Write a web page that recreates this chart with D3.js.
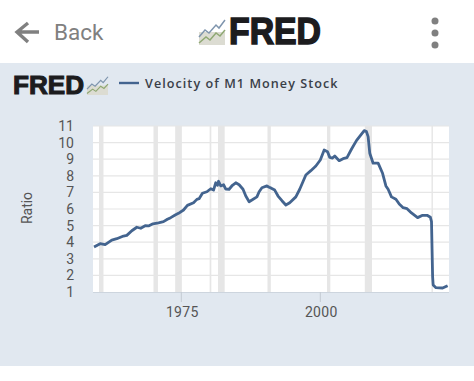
<!DOCTYPE html>
<html><head><meta charset="utf-8">
<script src="https://cdn.jsdelivr.net/npm/d3@7"></script>
<style>html,body{margin:0;padding:0;background:#fff}svg{display:block}text{font-family:Roboto,sans-serif}</style>
</head><body><svg id="c" width="474" height="381"></svg>
<script>
const years=[1959.3,1960.4,1961.3,1962.5,1963.4,1964.6,1965.2,1966.1,1967,1967.7,1968.5,1969.1,1969.9,1970.9,1971.8,1972.5,1973.1,1973.9,1974.5,1975.4,1976.1,1977.2,1977.8,1978.2,1978.8,1979.6,1980.3,1980.8,1981.2,1981.5,1981.7,1982.1,1982.6,1983,1983.6,1984.2,1984.8,1985.4,1986.1,1986.6,1987.2,1987.7,1988.6,1989,1989.5,1990.4,1990.8,1991.1,1991.8,1992.4,1993.1,1993.8,1994.5,1995.6,1996.3,1997.4,1998.3,1999.2,2000,2000.7,2001.3,2001.7,2002.2,2002.6,2003.4,2004.1,2004.8,2005.6,2006.5,2007.3,2007.9,2008.3,2008.6,2008.9,2009.5,2010.4,2011.2,2011.8,2012.2,2012.8,2013.6,2014.2,2014.9,2015.6,2016.4,2017.5,2018.4,2019.2,2019.8,2020,2020.2,2020.3,2020.8,2022,2022.9];
const velocity=[3.71,3.91,3.85,4.13,4.21,4.37,4.41,4.69,4.9,4.84,4.99,4.98,5.11,5.17,5.24,5.38,5.48,5.64,5.74,5.94,6.22,6.38,6.58,6.62,6.95,7.04,7.22,7.14,7.58,7.43,7.67,7.39,7.46,7.2,7.19,7.43,7.58,7.46,7.19,6.78,6.44,6.54,6.73,7.04,7.28,7.39,7.31,7.27,7.14,6.78,6.5,6.24,6.38,6.73,7.19,8.05,8.31,8.59,8.95,9.55,9.45,9.11,9.07,9.19,8.91,9.03,9.09,9.6,10.12,10.46,10.72,10.66,10.36,9.36,8.76,8.76,8.15,7.39,7.19,6.73,6.59,6.3,6.08,6.02,5.76,5.48,5.62,5.62,5.5,5.24,1.92,1.42,1.26,1.24,1.38];
const recessionStart=[1960.2,1970,1973.9,1980.1,1981.6,1990.5,2001.2,2008,2020];
const recessionEnd=[1961,1970.8,1975.1,1980.4,1982.8,1991.1,2001.8,2009.3,2020.25];
const yTicks=[1,2,3,4,5,6,7,8,9,10,11];
const xTicks=[1975,2000];
const seriesName="Velocity of M1 Money Stock";

const svg=d3.select("#c");
const x=d3.scaleLinear().domain([1975,2000]).range([181.3,320.3]);
const y=d3.scaleLinear().domain([1,11]).range([292,126]);
const X0=93,X1=449;

svg.append("rect").attr("x",0).attr("y",63).attr("width",474).attr("height",303).attr("fill","#e1e8f0");
svg.append("rect").attr("x",X0).attr("y",126).attr("width",X1-X0).attr("height",166).attr("fill","#fff");

svg.append("g").selectAll("rect").data(recessionStart).join("rect")
  .attr("x",d=>x(d)).attr("width",(d,i)=>x(recessionEnd[i])-x(d))
  .attr("y",126).attr("height",166).attr("fill","#e6e6e6");

svg.append("g").selectAll("line").data(yTicks.slice(1)).join("line")
  .attr("x1",X0).attr("x2",X1).attr("y1",d=>y(d)).attr("y2",d=>y(d))
  .attr("stroke","#e6e6e6").attr("stroke-width",1.2);
svg.append("line").attr("x1",X0).attr("x2",X1).attr("y1",292.5).attr("y2",292.5).attr("stroke","#cdd5de");

svg.append("g").selectAll("text").data(yTicks).join("text")
  .attr("x",74).attr("y",d=>y(d)+5).attr("text-anchor","end")
  .attr("font-size",14).attr("fill","#555").text(d=>d);

svg.append("g").selectAll("line").data(xTicks).join("line")
  .attr("x1",d=>x(d)).attr("x2",d=>x(d)).attr("y1",292).attr("y2",302).attr("stroke","#c3cad3");
svg.append("g").selectAll("text").data(xTicks).join("text")
  .attr("x",d=>x(d)+1).attr("y",317).attr("text-anchor","middle")
  .attr("font-size",14).attr("letter-spacing",0.3).attr("fill","#555").text(d=>d);

svg.append("text").attr("transform","translate(32,208) rotate(-90)").attr("text-anchor","middle")
  .attr("font-size",14).attr("fill","#555").text("Ratio");

svg.append("path").datum(years.map((d,i)=>[d,velocity[i]]))
  .attr("fill","none").attr("stroke","#43648f").attr("stroke-width",2.8).attr("stroke-linejoin","round")
  .attr("d",d3.line().x(d=>x(d[0])).y(d=>y(d[1])));

// Legend
svg.append("line").attr("x1",119).attr("x2",139).attr("y1",83).attr("y2",83).attr("stroke","#43648f").attr("stroke-width",2.4);
svg.append("text").attr("x",145).attr("y",87.5).style("font-family","'Open Sans',sans-serif").attr("font-size",12.6).attr("font-weight",600)
  .attr("letter-spacing",1.05).attr("fill","#3a4048").text(seriesName);

function logo(px,py,fs,sw,tl){
  svg.append("text").attr("x",px).attr("y",py).attr("textLength",tl).attr("lengthAdjust","spacingAndGlyphs")
    .style("font-family","'Liberation Sans',Arial,sans-serif").attr("font-weight",700).attr("font-size",fs)
    .attr("fill","#1c1c1e").attr("stroke","#1c1c1e").attr("stroke-width",sw).text("FRED");
}
function icon(px,py,w,h){
  const g=svg.append("g").attr("transform",`translate(${px},${py}) scale(${w/26},${h/26})`);
  g.append("rect").attr("y",13).attr("width",26).attr("height",13).attr("fill","#dcdcd2");
  g.append("path").attr("d","M0 18L6 11L10 14L17 6L20 9L26 1").attr("fill","none").attr("stroke","#7f95ad").attr("stroke-width",1.5);
  g.append("path").attr("d","M0 24L7 18L11 21L17 14L21 17L26 11").attr("fill","none").attr("stroke","#8fa873").attr("stroke-width",1.5);
}
logo(229,44,36,1.5,92);
icon(199,19,26,26);
logo(13,94,26,1.1,71);
icon(87,76,21,19);

// App bar
svg.append("path").attr("d","M39 32H18M28 23L17 32L28 42").attr("fill","none").attr("stroke","#808080").attr("stroke-width",3.4);
svg.append("text").attr("x",54).attr("y",40).style("font-family","Roboto,sans-serif").attr("font-size",22.5).attr("fill","#808080").text("Back");
svg.append("g").selectAll("circle").data([21,33,45]).join("circle").attr("cx",435).attr("cy",d=>d).attr("r",3.5).attr("fill","#808080");
</script></body></html>
